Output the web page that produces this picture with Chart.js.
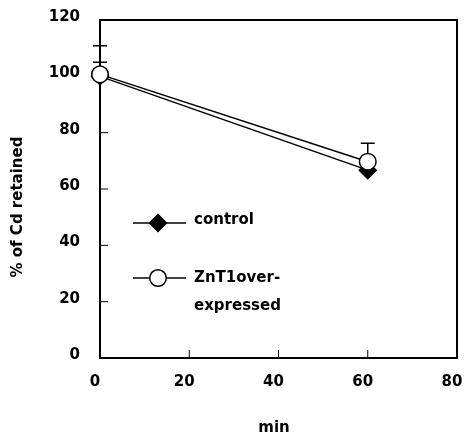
<!DOCTYPE html>
<html>
<head>
<meta charset="utf-8">
<script src="https://cdn.jsdelivr.net/npm/chart.js@4/dist/chart.umd.min.js"></script>
<style>
html,body{margin:0;padding:0;background:#fff;}
#wrap{width:464px;height:437px;}
</style>
</head>
<body>
<div id="wrap"><canvas id="c" width="464" height="437"></canvas></div>
<script>
// ---- data ----
const times = [0, 60];
const controlValues = [100, 66.7];
const controlErr = [5, 3];
const zntValues = [100.7, 69.7];
const zntErr = [10.2, 6.5];
const xTicks = [0, 20, 40, 60, 80];
const yTicks = [0, 20, 40, 60, 80, 100, 120];
const seriesNames = ['control', 'ZnT1over-expressed'];
const legendLines = [['control'], ['ZnT1over-', 'expressed']];
const xTitle = 'min';
const yTitle = '% of Cd retained';

const FONT = '"DejaVu Sans", sans-serif';

function pts(xs, ys){ return xs.map((x,i)=>({x:x, y:ys[i]})); }

const errors = [controlErr, zntErr];

function drawDiamond(ctx, x, y, r){
  ctx.beginPath();
  ctx.moveTo(x, y - r); ctx.lineTo(x + r, y); ctx.lineTo(x, y + r); ctx.lineTo(x - r, y); ctx.closePath();
  ctx.fillStyle = '#000'; ctx.fill();
}
function drawCircle(ctx, x, y, r){
  ctx.beginPath(); ctx.arc(x, y, r, 0, Math.PI*2);
  ctx.fillStyle = '#fff'; ctx.fill();
  ctx.lineWidth = 1.5; ctx.strokeStyle = '#000'; ctx.stroke();
}

const framePlugin = {
  id: 'frame',
  beforeDatasetsDraw(chart){
    const ctx = chart.ctx, a = chart.chartArea, xs = chart.scales.x, ys = chart.scales.y;
    ctx.save();
    ctx.strokeStyle = '#000';
    ctx.lineWidth = 2;
    ctx.beginPath();
    ctx.rect(a.left, a.top, a.right - a.left, a.bottom - a.top);
    ctx.stroke();
    // inside ticks
    ctx.lineWidth = 1;
    xTicks.forEach(v => {
      if (v === xTicks[0] || v === xTicks[xTicks.length-1]) return;
      const px = xs.getPixelForValue(v);
      ctx.beginPath(); ctx.moveTo(px, a.bottom); ctx.lineTo(px, a.bottom - 8); ctx.stroke();
    });
    yTicks.forEach(v => {
      if (v === yTicks[0] || v === yTicks[yTicks.length-1]) return;
      const py = ys.getPixelForValue(v);
      ctx.beginPath(); ctx.moveTo(a.left, py); ctx.lineTo(a.left + 8, py); ctx.stroke();
    });
    // error bars (upper only)
    ctx.lineWidth = 1.5;
    chart.data.datasets.forEach((ds, di) => {
      ds.data.forEach((p, i) => {
        const e = errors[di][i];
        const px = xs.getPixelForValue(p.x);
        const y0 = ys.getPixelForValue(p.y);
        const y1 = ys.getPixelForValue(p.y + e);
        ctx.beginPath(); ctx.moveTo(px, y0); ctx.lineTo(px, y1);
        ctx.moveTo(px - 7, y1); ctx.lineTo(px + 7, y1); ctx.stroke();
      });
    });
    ctx.restore();
  },
  afterDraw(chart){
    const ctx = chart.ctx;
    ctx.save();
    // legend
    const rows = [{y:223, off:-3, sym:'diamond', lines: legendLines[0]}, {y:278, off:0, sym:'circle', lines: legendLines[1]}];
    rows.forEach(r => {
      ctx.strokeStyle = '#000'; ctx.lineWidth = 1.5;
      ctx.beginPath(); ctx.moveTo(133, r.y); ctx.lineTo(186, r.y); ctx.stroke();
      if (r.sym === 'diamond') drawDiamond(ctx, 158, r.y, 9.5); else drawCircle(ctx, 158, r.y, 8.3);
      ctx.fillStyle = '#000';
      ctx.font = 'bold 15px ' + FONT;
      ctx.textAlign = 'left'; ctx.textBaseline = 'middle';
      r.lines.forEach((t, k) => ctx.fillText(t, 194, r.y + r.off + k * 28));
    });
    // axis titles
    ctx.font = 'bold 15px ' + FONT;
    ctx.textAlign = 'center'; ctx.textBaseline = 'middle';
    ctx.fillText(xTitle, 274, 428);
    ctx.translate(18, 207);
    ctx.rotate(-Math.PI/2);
    ctx.fillText(yTitle, 0, 0);
    ctx.restore();
  }
};

new Chart(document.getElementById('c'), {
  type: 'scatter',
  data: {
    datasets: [
      {
        label: seriesNames[0],
        data: pts(times, controlValues),
        showLine: true,
        borderColor: '#000', borderWidth: 1.5,
        pointStyle: 'rectRot', pointRadius: 9.5, pointBorderWidth: 0,
        pointBackgroundColor: '#000', pointBorderColor: '#000',
        clip: false, order: 2
      },
      {
        label: seriesNames[1],
        data: pts(times, zntValues),
        showLine: true,
        borderColor: '#000', borderWidth: 1.5,
        pointStyle: 'circle', pointRadius: 8.3, pointBorderWidth: 1.5,
        pointBackgroundColor: '#fff', pointBorderColor: '#000',
        clip: false, order: 1
      }
    ]
  },
  options: {
    responsive: false,
    animation: false,
    events: [],
    layout: { autoPadding: false, padding: { top: 20, right: 7, left: 0, bottom: 0 } },
    plugins: { legend: { display: false }, tooltip: { enabled: false } },
    scales: {
      x: {
        type: 'linear', min: 0, max: 80,
        afterBuildTicks(s){ s.ticks = xTicks.map(v => ({value: v})); },
        afterFit(s){ s.height = 79; s.paddingLeft = 0; s.paddingRight = 0; },
        grid: { display: false, drawTicks: false },
        border: { display: false },
        ticks: { color: '#000', font: { family: FONT, size: 15, weight: 'bold' }, padding: 15, labelOffset: -5, maxRotation: 0, autoSkip: false }
      },
      y: {
        type: 'linear', min: 0, max: 120,
        afterBuildTicks(s){ s.ticks = yTicks.map(v => ({value: v})); },
        afterFit(s){ s.width = 100; s.paddingTop = 0; s.paddingBottom = 0; },
        grid: { display: false, drawTicks: false },
        border: { display: false },
        ticks: { color: '#000', font: { family: FONT, size: 15, weight: 'bold' }, padding: 20, labelOffset: -3, autoSkip: false }
      }
    }
  },
  plugins: [framePlugin]
});
</script>
</body>
</html>
